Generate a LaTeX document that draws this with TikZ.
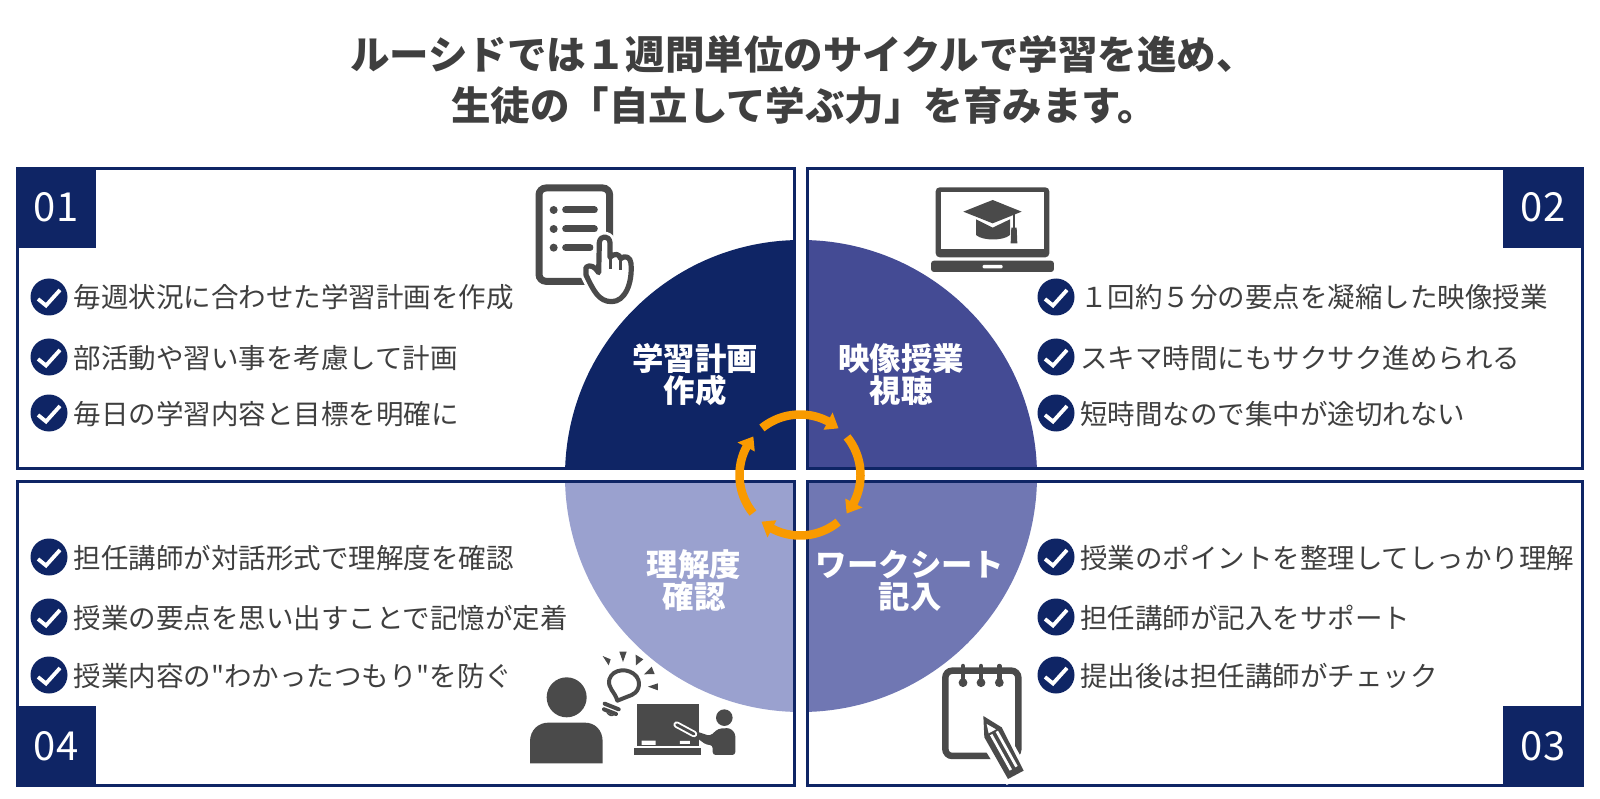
\documentclass[tikz,border=0pt]{standalone}
\usepackage{fontspec}
\setmainfont{Noto Sans CJK JP}
\newfontfamily\plainjp{Noto Sans CJK JP}
\usetikzlibrary{arrows.meta}
\definecolor{navy}{HTML}{0F2565}
\definecolor{qtwo}{HTML}{444B94}
\definecolor{qthree}{HTML}{7077B3}
\definecolor{qfour}{HTML}{9AA1CF}
\definecolor{ink}{HTML}{3F3F3F}
\definecolor{icon}{HTML}{4A4A4A}
\definecolor{orng}{HTML}{F99A00}
\tikzset{
  titletext/.style={font=\fontsize{39.5}{40}\selectfont\bfseries,text=ink,inner sep=0pt},
  itemtext/.style={font=\fontsize{27.5}{28}\selectfont,text=ink,inner sep=0pt,anchor=west},
  wedgetext/.style={font=\fontsize{31.4}{32}\selectfont\bfseries,text=white,inner sep=0pt},
  numbox/.style={fill=navy,minimum width=80pt,minimum height=81pt,inner sep=0pt,text=white,font=\fontsize{40}{40}\selectfont},
  panel/.style={draw=navy,line width=3pt},
  zoomed/.style={x=0.3333pt,y=-0.3333pt},
}
\newcommand{\chk}[2]{%
  \fill[navy] (#1,#2) circle[radius=18.5pt];
  \draw[white,line width=3.8pt,line join=miter] (#1-11,#2+2) -- (#1-3,#2+8.5) -- (#1+11,#2-7);
}
\newcommand{\cyc}[1]{%
  \draw[orng,line width=8.5pt] plot[domain=#1:#1+68,samples=30] ({800+60.5*cos(\x)},{475+60.5*sin(\x)});
  \fill[orng] ({800+51*cos(#1+66.5)},{475+51*sin(#1+66.5)}) -- ({800+60.5*cos(#1+78.5)},{475+60.5*sin(#1+78.5)}) -- ({800+70.5*cos(#1+66.5)},{475+70.5*sin(#1+66.5)}) -- cycle;
}
\begin{document}
\begin{tikzpicture}[x=1pt,y=-1pt]
\useasboundingbox (0,0) rectangle (1600,799);
\fill[white] (0,0) rectangle (1600,799);

% title
\node[titletext] (t1) at (803,54.5) {ルーシドでは１週間単位のサイクルで学習を進め、};
\node[titletext] (t2) at (804,105.5) {生徒の「自立して学ぶ力」を育みます。};

% wedges
\begin{scope}\clip (0,0) rectangle (795,469); \fill[navy] (801,476) circle[radius=236pt]; \end{scope}
\begin{scope}\clip (807,0) rectangle (1600,469); \fill[qtwo] (801,476) circle[radius=236pt]; \end{scope}
\begin{scope}\clip (807,480) rectangle (1600,799); \fill[qthree] (801,476) circle[radius=236pt]; \end{scope}
\begin{scope}\clip (0,480) rectangle (795,799); \fill[qfour] (801,476) circle[radius=236pt]; \end{scope}

% panels
\draw[panel] (17.5,168.5) rectangle (794,468);
\draw[panel] (807,168.5) rectangle (1582.5,468);
\draw[panel] (807,481) rectangle (1582.5,785);
\draw[panel] (17.5,481) rectangle (794,785);

% number boxes
\node[numbox] (n1) at (56,207.5) {01};
\node[numbox] (n2) at (1543,207.5) {02};
\node[numbox] (n3) at (1543,746) {03};
\node[numbox] (n4) at (56,746) {04};

% wedge labels
\node[wedgetext] (w1a) at (695,359) {学習計画};
\node[wedgetext] (w1b) at (695,391) {作成};
\node[wedgetext] (w2a) at (901,359) {映像授業};
\node[wedgetext] (w2b) at (901,391) {視聴};
\node[wedgetext] (w3a) at (910,565) {ワークシート};
\node[wedgetext] (w3b) at (910,597) {記入};
\node[wedgetext] (w4a) at (694,565) {理解度};
\node[wedgetext] (w4b) at (694,597) {確認};

% list items
\chk{49}{297}\chk{49}{357}\chk{49}{413}
\node[itemtext] (a1) at (73.5,297) {毎週状況に合わせた学習計画を作成};
\node[itemtext] (a2) at (73.5,358) {部活動や習い事を考慮して計画};
\node[itemtext] (a3) at (73.5,414) {毎日の学習内容と目標を明確に};
\chk{1056}{297}\chk{1056}{357}\chk{1056}{413}
\node[itemtext] (b1) at (1080,297) {１回約５分の要点を凝縮した映像授業};
\node[itemtext] (b2) at (1080,358) {スキマ時間にもサクサク進められる};
\node[itemtext] (b3) at (1080,414) {短時間なので集中が途切れない};
\chk{1056}{557}\chk{1056}{617}\chk{1056}{675}
\node[itemtext] (c1) at (1080,558) {授業のポイントを整理してしっかり理解};
\node[itemtext] (c2) at (1080,618) {担任講師が記入をサポート};
\node[itemtext] (c3) at (1080,676) {提出後は担任講師がチェック};
\chk{49}{557}\chk{49}{617}\chk{49}{675}
\node[itemtext] (d1) at (73.5,558) {担任講師が対話形式で理解度を確認};
\node[itemtext] (d2) at (73.5,618) {授業の要点を思い出すことで記憶が定着};
\node[itemtext] (d3) at (73.5,676) {\plainjp 授業内容の"わかったつもり"を防ぐ};

% cycle arrows
\cyc{-129}\cyc{-39}\cyc{51}\cyc{141}

% icon 1: document with hand
\begin{scope}[shift={(500,160)},zoomed]
  \draw[icon,line width=7pt,rounded corners=7pt] (117,84) rectangle (329,364);
  \foreach \y/\e in {150/283,207/283,263/270}{
    \fill[icon] (161,\y) circle[radius=4pt];
    \draw[icon,line width=7pt,line cap=round] (197,\y) -- (\e,\y);
  }
  \draw[white,fill=white,line width=11pt,line join=round]
    (258,322) .. controls (270,312) and (285,320) .. (296,338) -- (298,248)
    .. controls (300,225) and (328,225) .. (330,248) -- (330,292)
    .. controls (345,278) and (358,282) .. (362,296)
    .. controls (375,284) and (392,292) .. (393,310)
    .. controls (398,370) and (375,425) .. (335,425)
    .. controls (295,425) and (280,390) .. (258,345) -- cycle;
  \draw[icon,fill=white,line width=5.2pt,line join=round]
    (258,322) .. controls (270,312) and (285,320) .. (296,338) -- (298,248)
    .. controls (300,225) and (328,225) .. (330,248) -- (330,292)
    .. controls (345,278) and (358,282) .. (362,296)
    .. controls (375,284) and (392,292) .. (393,310)
    .. controls (398,370) and (375,425) .. (335,425)
    .. controls (295,425) and (280,390) .. (258,345) -- cycle;
  \draw[icon,line width=3.5pt] (332,292) -- (332,328) (362,296) -- (362,330);
\end{scope}

% icon 2: laptop with cap
\begin{scope}[shift={(900,160)},zoomed]
  \fill[icon,rounded corners=4pt] (107,82) rectangle (448,292);
  \fill[white] (123,97) rectangle (432,267);
  \fill[icon,rounded corners=3pt] (93,302) rectangle (462,336);
  \fill[white,rounded corners=1pt] (248,315) rectangle (308,325);
  \fill[icon] (190,155) -- (278,120) -- (365,155) -- (278,190) -- cycle;
  \fill[icon] (228,178) -- (278,203) -- (330,178) -- (330,225)
     .. controls (310,243) and (248,243) .. (228,225) -- cycle;
  \draw[icon,line width=2.5pt] (342,160) -- (342,205);
  \fill[icon] (334,203) -- (350,203) -- (352,250) -- (332,250) -- cycle;
\end{scope}

% icon 3: person, bulb, blackboard
\begin{scope}[shift={(510,630)},zoomed]
  \fill[icon] (170,202) circle[radius=20pt];
  \fill[icon] (60,400) -- (60,335) .. controls (60,300) and (85,278) .. (115,278)
     -- (225,278) .. controls (255,278) and (278,300) .. (278,335) -- (278,400) -- cycle;
  \fill[icon] (278,78) -- (302,88) -- (296,106) -- cycle;
  \fill[icon] (328,65) -- (350,65) -- (339,96) -- cycle;
  \fill[icon] (377,74) -- (400,88) -- (378,106) -- cycle;
  \fill[icon] (425,110) -- (434,132) -- (402,133) -- cycle;
  \fill[icon] (444,160) -- (444,181) -- (414,170) -- cycle;
  \draw[icon,line width=4pt,line join=round]
    (322,212) .. controls (315,185) and (292,175) .. (298,148)
    .. controls (308,115) and (358,112) .. (380,140)
    .. controls (397,165) and (380,190) .. (365,195) -- cycle;
  \draw[icon,line width=4pt,line cap=round] (284,221) -- (326,238) (282,238) -- (318,252);
  \fill[icon] (288,247) .. controls (295,258) and (305,262) .. (312,256) -- cycle;
  \fill[icon] (380,222) rectangle (566,348);
  \fill[icon] (373,355) rectangle (572,376);
  \fill[white] (395,332) rectangle (437,345) (510,333) rectangle (540,342);
  \fill[icon] (643,263) circle[radius=8.3pt];
  \fill[icon,rounded corners=3pt] (608,375) -- (608,345) -- (590,345) -- (552,318) -- (552,302) -- (600,318) -- (625,296) -- (660,294) -- (676,310) -- (676,375) -- cycle;
  \draw[white,line width=6.5pt,line cap=round] (500,284) -- (552,312);
  \draw[icon,line width=2.8pt,line cap=round] (500,284) -- (552,312);
\end{scope}

% icon 4: notepad with pencil
\begin{scope}[shift={(920,650)},zoomed]
  \draw[icon,line width=6.5pt,rounded corners=7pt] (76,62) rectangle (295,318);
  \foreach \x in {129,183,238}{
    \draw[icon,line width=4.5pt,line cap=round] (\x,48) -- (\x,100);
    \fill[icon] (\x,98) circle[radius=4.4pt];
  }
  \fill[white] (172,190) -- (250,225) -- (330,370) -- (260,405) -- (180,275) -- cycle;
  \fill[icon] (190,198) -- (245,232) -- (311,362) -- (264,387) -- (193,262) -- cycle;
  \fill[white] (200,222) -- (228,238) -- (206,250) -- cycle;
  \fill[white] (210,256) -- (217,252) -- (276,358) -- (269,362) -- cycle;
  \fill[white] (227,246) -- (234,242) -- (293,348) -- (286,352) -- cycle;
\end{scope}
\end{tikzpicture}
\end{document}
